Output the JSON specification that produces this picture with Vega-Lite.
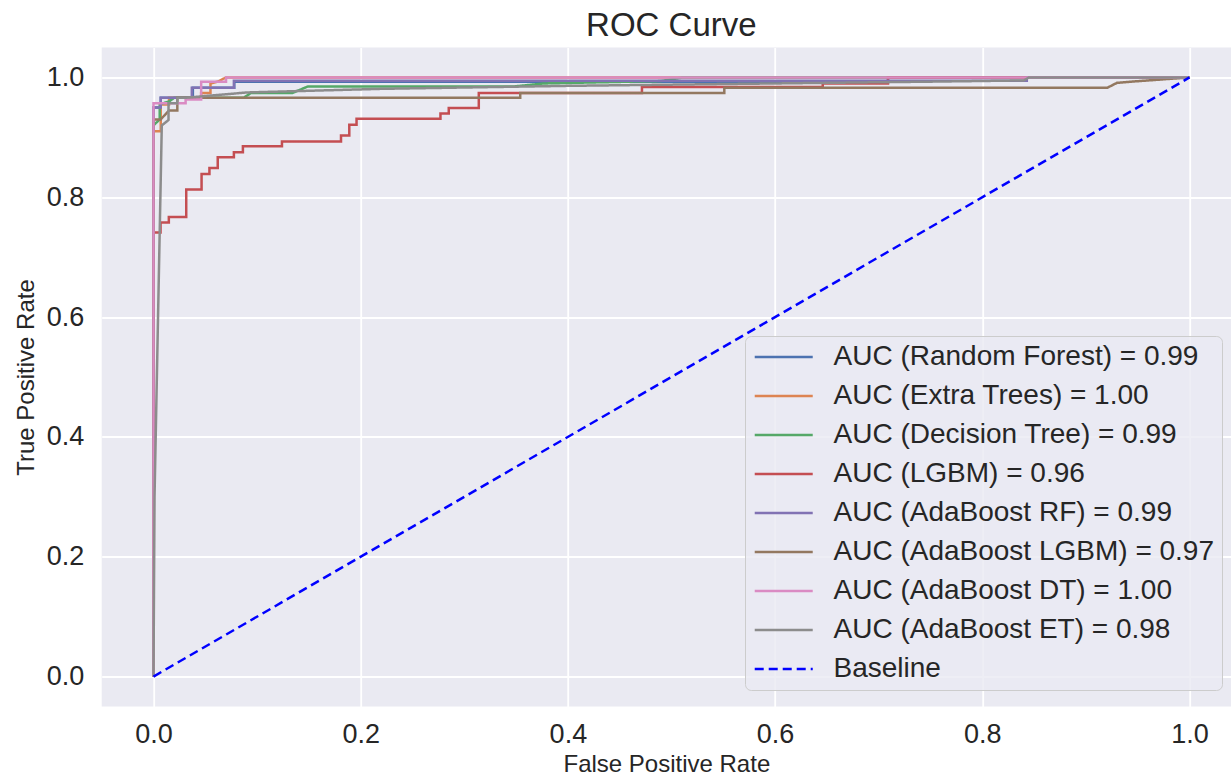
{
  "$schema": "https://vega.github.io/schema/vega-lite/v6.json",
  "width": 1129.3,
  "height": 659,
  "autosize": "none",
  "padding": {"left": 101.7, "top": 47.5, "right": 0, "bottom": 70.5},
  "background": "white",
  "title": {"text": "ROC Curve", "fontSize": 33, "font": "Liberation Sans", "fontWeight": "normal", "color": "#262626", "anchor": "middle", "dx": 5, "offset": 5},
  "config": {
    "view": {"fill": "#EAEAF2", "stroke": null},
    "axis": {"domain": false, "ticks": false, "grid": true, "gridColor": "#ffffff", "gridWidth": 1.8, "labelFont": "Liberation Sans", "labelFontSize": 27, "labelColor": "#262626", "titleFont": "Liberation Sans", "titleFontSize": 24, "titleFontWeight": "normal", "titleColor": "#262626"},
    "legend": {"orient": "none", "legendX": 643.3, "legendY": 288.5, "labelFont": "Liberation Sans", "labelFontSize": 28, "labelColor": "#262626", "symbolType": "M-1.88,0H7.79", "symbolSize": 144, "symbolStrokeWidth": 2.5, "labelOffset": 53.5, "padding": 7, "fillColor": "rgba(234,234,242,0.8)", "strokeColor": "#cccccc", "cornerRadius": 6, "labelLimit": 600, "rowPadding": 11}
  },
  "data": {"values": [
    {"model": "AUC (Random Forest) = 0.99", "i": 0, "fpr": 0, "tpr": 0},
    {"model": "AUC (Random Forest) = 0.99", "i": 1, "fpr": 0, "tpr": 0.95},
    {"model": "AUC (Random Forest) = 0.99", "i": 2, "fpr": 0.007, "tpr": 0.95},
    {"model": "AUC (Random Forest) = 0.99", "i": 3, "fpr": 0.007, "tpr": 0.966},
    {"model": "AUC (Random Forest) = 0.99", "i": 4, "fpr": 0.038, "tpr": 0.966},
    {"model": "AUC (Random Forest) = 0.99", "i": 5, "fpr": 0.038, "tpr": 0.983},
    {"model": "AUC (Random Forest) = 0.99", "i": 6, "fpr": 0.078, "tpr": 0.983},
    {"model": "AUC (Random Forest) = 0.99", "i": 7, "fpr": 0.078, "tpr": 0.993},
    {"model": "AUC (Random Forest) = 0.99", "i": 8, "fpr": 0.709, "tpr": 0.993},
    {"model": "AUC (Random Forest) = 0.99", "i": 9, "fpr": 0.709, "tpr": 1},
    {"model": "AUC (Random Forest) = 0.99", "i": 10, "fpr": 1, "tpr": 1},

    {"model": "AUC (Extra Trees) = 1.00", "i": 0, "fpr": 0, "tpr": 0},
    {"model": "AUC (Extra Trees) = 1.00", "i": 1, "fpr": 0, "tpr": 0.91},
    {"model": "AUC (Extra Trees) = 1.00", "i": 2, "fpr": 0.007, "tpr": 0.91},
    {"model": "AUC (Extra Trees) = 1.00", "i": 3, "fpr": 0.007, "tpr": 0.955},
    {"model": "AUC (Extra Trees) = 1.00", "i": 4, "fpr": 0.015, "tpr": 0.955},
    {"model": "AUC (Extra Trees) = 1.00", "i": 5, "fpr": 0.015, "tpr": 0.966},
    {"model": "AUC (Extra Trees) = 1.00", "i": 6, "fpr": 0.046, "tpr": 0.966},
    {"model": "AUC (Extra Trees) = 1.00", "i": 7, "fpr": 0.046, "tpr": 0.974},
    {"model": "AUC (Extra Trees) = 1.00", "i": 8, "fpr": 0.055, "tpr": 0.974},
    {"model": "AUC (Extra Trees) = 1.00", "i": 9, "fpr": 0.055, "tpr": 0.99},
    {"model": "AUC (Extra Trees) = 1.00", "i": 10, "fpr": 0.062, "tpr": 0.993},
    {"model": "AUC (Extra Trees) = 1.00", "i": 11, "fpr": 0.07, "tpr": 1},
    {"model": "AUC (Extra Trees) = 1.00", "i": 12, "fpr": 1, "tpr": 1},

    {"model": "AUC (Decision Tree) = 0.99", "i": 0, "fpr": 0, "tpr": 0},
    {"model": "AUC (Decision Tree) = 0.99", "i": 1, "fpr": 0, "tpr": 0.92},
    {"model": "AUC (Decision Tree) = 0.99", "i": 2, "fpr": 0.006, "tpr": 0.93},
    {"model": "AUC (Decision Tree) = 0.99", "i": 3, "fpr": 0.006, "tpr": 0.955},
    {"model": "AUC (Decision Tree) = 0.99", "i": 4, "fpr": 0.015, "tpr": 0.96},
    {"model": "AUC (Decision Tree) = 0.99", "i": 5, "fpr": 0.02, "tpr": 0.966},
    {"model": "AUC (Decision Tree) = 0.99", "i": 6, "fpr": 0.087, "tpr": 0.966},
    {"model": "AUC (Decision Tree) = 0.99", "i": 7, "fpr": 0.094, "tpr": 0.974},
    {"model": "AUC (Decision Tree) = 0.99", "i": 8, "fpr": 0.134, "tpr": 0.974},
    {"model": "AUC (Decision Tree) = 0.99", "i": 9, "fpr": 0.149, "tpr": 0.985},
    {"model": "AUC (Decision Tree) = 0.99", "i": 10, "fpr": 0.348, "tpr": 0.985},
    {"model": "AUC (Decision Tree) = 0.99", "i": 11, "fpr": 0.377, "tpr": 0.99},
    {"model": "AUC (Decision Tree) = 0.99", "i": 12, "fpr": 0.49, "tpr": 0.994},
    {"model": "AUC (Decision Tree) = 0.99", "i": 13, "fpr": 0.511, "tpr": 1},
    {"model": "AUC (Decision Tree) = 0.99", "i": 14, "fpr": 1, "tpr": 1},

    {"model": "AUC (LGBM) = 0.96", "i": 0, "fpr": 0, "tpr": 0},
    {"model": "AUC (LGBM) = 0.96", "i": 1, "fpr": 0, "tpr": 0.741},
    {"model": "AUC (LGBM) = 0.96", "i": 2, "fpr": 0.0068, "tpr": 0.741},
    {"model": "AUC (LGBM) = 0.96", "i": 3, "fpr": 0.0068, "tpr": 0.758},
    {"model": "AUC (LGBM) = 0.96", "i": 4, "fpr": 0.0148, "tpr": 0.758},
    {"model": "AUC (LGBM) = 0.96", "i": 5, "fpr": 0.0148, "tpr": 0.767},
    {"model": "AUC (LGBM) = 0.96", "i": 6, "fpr": 0.0316, "tpr": 0.767},
    {"model": "AUC (LGBM) = 0.96", "i": 7, "fpr": 0.0316, "tpr": 0.813},
    {"model": "AUC (LGBM) = 0.96", "i": 8, "fpr": 0.0464, "tpr": 0.813},
    {"model": "AUC (LGBM) = 0.96", "i": 9, "fpr": 0.0464, "tpr": 0.839},
    {"model": "AUC (LGBM) = 0.96", "i": 10, "fpr": 0.054, "tpr": 0.839},
    {"model": "AUC (LGBM) = 0.96", "i": 11, "fpr": 0.054, "tpr": 0.849},
    {"model": "AUC (LGBM) = 0.96", "i": 12, "fpr": 0.062, "tpr": 0.849},
    {"model": "AUC (LGBM) = 0.96", "i": 13, "fpr": 0.062, "tpr": 0.867},
    {"model": "AUC (LGBM) = 0.96", "i": 14, "fpr": 0.0776, "tpr": 0.867},
    {"model": "AUC (LGBM) = 0.96", "i": 15, "fpr": 0.0776, "tpr": 0.875},
    {"model": "AUC (LGBM) = 0.96", "i": 16, "fpr": 0.0863, "tpr": 0.875},
    {"model": "AUC (LGBM) = 0.96", "i": 17, "fpr": 0.0863, "tpr": 0.885},
    {"model": "AUC (LGBM) = 0.96", "i": 18, "fpr": 0.124, "tpr": 0.885},
    {"model": "AUC (LGBM) = 0.96", "i": 19, "fpr": 0.124, "tpr": 0.893},
    {"model": "AUC (LGBM) = 0.96", "i": 20, "fpr": 0.181, "tpr": 0.893},
    {"model": "AUC (LGBM) = 0.96", "i": 21, "fpr": 0.181, "tpr": 0.903},
    {"model": "AUC (LGBM) = 0.96", "i": 22, "fpr": 0.189, "tpr": 0.903},
    {"model": "AUC (LGBM) = 0.96", "i": 23, "fpr": 0.189, "tpr": 0.921},
    {"model": "AUC (LGBM) = 0.96", "i": 24, "fpr": 0.196, "tpr": 0.921},
    {"model": "AUC (LGBM) = 0.96", "i": 25, "fpr": 0.196, "tpr": 0.931},
    {"model": "AUC (LGBM) = 0.96", "i": 26, "fpr": 0.277, "tpr": 0.931},
    {"model": "AUC (LGBM) = 0.96", "i": 27, "fpr": 0.277, "tpr": 0.94},
    {"model": "AUC (LGBM) = 0.96", "i": 28, "fpr": 0.285, "tpr": 0.94},
    {"model": "AUC (LGBM) = 0.96", "i": 29, "fpr": 0.285, "tpr": 0.949},
    {"model": "AUC (LGBM) = 0.96", "i": 30, "fpr": 0.314, "tpr": 0.949},
    {"model": "AUC (LGBM) = 0.96", "i": 31, "fpr": 0.314, "tpr": 0.974},
    {"model": "AUC (LGBM) = 0.96", "i": 32, "fpr": 0.4715, "tpr": 0.974},
    {"model": "AUC (LGBM) = 0.96", "i": 33, "fpr": 0.4715, "tpr": 0.984},
    {"model": "AUC (LGBM) = 0.96", "i": 34, "fpr": 0.646, "tpr": 0.984},
    {"model": "AUC (LGBM) = 0.96", "i": 35, "fpr": 0.646, "tpr": 0.99},
    {"model": "AUC (LGBM) = 0.96", "i": 36, "fpr": 0.709, "tpr": 0.99},
    {"model": "AUC (LGBM) = 0.96", "i": 37, "fpr": 0.709, "tpr": 1},
    {"model": "AUC (LGBM) = 0.96", "i": 38, "fpr": 1, "tpr": 1},

    {"model": "AUC (AdaBoost RF) = 0.99", "i": 0, "fpr": 0, "tpr": 0},
    {"model": "AUC (AdaBoost RF) = 0.99", "i": 1, "fpr": 0, "tpr": 0.95},
    {"model": "AUC (AdaBoost RF) = 0.99", "i": 2, "fpr": 0.007, "tpr": 0.95},
    {"model": "AUC (AdaBoost RF) = 0.99", "i": 3, "fpr": 0.007, "tpr": 0.966},
    {"model": "AUC (AdaBoost RF) = 0.99", "i": 4, "fpr": 0.037, "tpr": 0.966},
    {"model": "AUC (AdaBoost RF) = 0.99", "i": 5, "fpr": 0.037, "tpr": 0.983},
    {"model": "AUC (AdaBoost RF) = 0.99", "i": 6, "fpr": 0.0776, "tpr": 0.983},
    {"model": "AUC (AdaBoost RF) = 0.99", "i": 7, "fpr": 0.0776, "tpr": 0.9945},
    {"model": "AUC (AdaBoost RF) = 0.99", "i": 8, "fpr": 0.843, "tpr": 0.9945},
    {"model": "AUC (AdaBoost RF) = 0.99", "i": 9, "fpr": 0.843, "tpr": 1},
    {"model": "AUC (AdaBoost RF) = 0.99", "i": 10, "fpr": 1, "tpr": 1},

    {"model": "AUC (AdaBoost LGBM) = 0.97", "i": 0, "fpr": 0, "tpr": 0},
    {"model": "AUC (AdaBoost LGBM) = 0.97", "i": 1, "fpr": 0, "tpr": 0.93},
    {"model": "AUC (AdaBoost LGBM) = 0.97", "i": 2, "fpr": 0.007, "tpr": 0.93},
    {"model": "AUC (AdaBoost LGBM) = 0.97", "i": 3, "fpr": 0.015, "tpr": 0.945},
    {"model": "AUC (AdaBoost LGBM) = 0.97", "i": 4, "fpr": 0.023, "tpr": 0.945},
    {"model": "AUC (AdaBoost LGBM) = 0.97", "i": 5, "fpr": 0.023, "tpr": 0.966},
    {"model": "AUC (AdaBoost LGBM) = 0.97", "i": 6, "fpr": 0.354, "tpr": 0.966},
    {"model": "AUC (AdaBoost LGBM) = 0.97", "i": 7, "fpr": 0.354, "tpr": 0.974},
    {"model": "AUC (AdaBoost LGBM) = 0.97", "i": 8, "fpr": 0.551, "tpr": 0.974},
    {"model": "AUC (AdaBoost LGBM) = 0.97", "i": 9, "fpr": 0.551, "tpr": 0.983},
    {"model": "AUC (AdaBoost LGBM) = 0.97", "i": 10, "fpr": 0.921, "tpr": 0.983},
    {"model": "AUC (AdaBoost LGBM) = 0.97", "i": 11, "fpr": 0.93, "tpr": 0.991},
    {"model": "AUC (AdaBoost LGBM) = 0.97", "i": 12, "fpr": 0.944, "tpr": 0.993},
    {"model": "AUC (AdaBoost LGBM) = 0.97", "i": 13, "fpr": 1, "tpr": 1},

    {"model": "AUC (AdaBoost DT) = 1.00", "i": 0, "fpr": 0, "tpr": 0},
    {"model": "AUC (AdaBoost DT) = 1.00", "i": 1, "fpr": 0, "tpr": 0.957},
    {"model": "AUC (AdaBoost DT) = 1.00", "i": 2, "fpr": 0.031, "tpr": 0.957},
    {"model": "AUC (AdaBoost DT) = 1.00", "i": 3, "fpr": 0.031, "tpr": 0.963},
    {"model": "AUC (AdaBoost DT) = 1.00", "i": 4, "fpr": 0.046, "tpr": 0.963},
    {"model": "AUC (AdaBoost DT) = 1.00", "i": 5, "fpr": 0.046, "tpr": 0.993},
    {"model": "AUC (AdaBoost DT) = 1.00", "i": 6, "fpr": 0.07, "tpr": 0.993},
    {"model": "AUC (AdaBoost DT) = 1.00", "i": 7, "fpr": 0.07, "tpr": 1},
    {"model": "AUC (AdaBoost DT) = 1.00", "i": 8, "fpr": 1, "tpr": 1},

    {"model": "AUC (AdaBoost ET) = 0.98", "i": 0, "fpr": 0, "tpr": 0},
    {"model": "AUC (AdaBoost ET) = 0.98", "i": 1, "fpr": 0.001, "tpr": 0.3},
    {"model": "AUC (AdaBoost ET) = 0.98", "i": 2, "fpr": 0.008, "tpr": 0.92},
    {"model": "AUC (AdaBoost ET) = 0.98", "i": 3, "fpr": 0.0145, "tpr": 0.929},
    {"model": "AUC (AdaBoost ET) = 0.98", "i": 4, "fpr": 0.0145, "tpr": 0.957},
    {"model": "AUC (AdaBoost ET) = 0.98", "i": 5, "fpr": 0.023, "tpr": 0.957},
    {"model": "AUC (AdaBoost ET) = 0.98", "i": 6, "fpr": 0.023, "tpr": 0.966},
    {"model": "AUC (AdaBoost ET) = 0.98", "i": 7, "fpr": 0.03, "tpr": 0.966},
    {"model": "AUC (AdaBoost ET) = 0.98", "i": 8, "fpr": 0.0905, "tpr": 0.975},
    {"model": "AUC (AdaBoost ET) = 0.98", "i": 9, "fpr": 0.22, "tpr": 0.981},
    {"model": "AUC (AdaBoost ET) = 0.98", "i": 10, "fpr": 0.4, "tpr": 0.986},
    {"model": "AUC (AdaBoost ET) = 0.98", "i": 11, "fpr": 0.55, "tpr": 0.989},
    {"model": "AUC (AdaBoost ET) = 0.98", "i": 12, "fpr": 0.75, "tpr": 0.993},
    {"model": "AUC (AdaBoost ET) = 0.98", "i": 13, "fpr": 0.84, "tpr": 0.995},
    {"model": "AUC (AdaBoost ET) = 0.98", "i": 14, "fpr": 0.845, "tpr": 1},
    {"model": "AUC (AdaBoost ET) = 0.98", "i": 15, "fpr": 1, "tpr": 1},

    {"model": "Baseline", "i": 0, "fpr": 0, "tpr": 0},
    {"model": "Baseline", "i": 1, "fpr": 1, "tpr": 1}
  ]},
  "mark": {"type": "line", "strokeWidth": 2.5},
  "encoding": {
    "x": {"field": "fpr", "type": "quantitative", "title": "False Positive Rate",
      "scale": {"domain": [-0.05, 1.0401], "nice": false, "zero": false},
      "axis": {"values": [0, 0.2, 0.4, 0.6, 0.8, 1.0], "format": ".1f", "labelPadding": 15, "titlePadding": 5}},
    "y": {"field": "tpr", "type": "quantitative", "title": "True Positive Rate",
      "scale": {"domain": [-0.05, 1.05], "nice": false, "zero": false},
      "axis": {"values": [0, 0.2, 0.4, 0.6, 0.8, 1.0], "format": ".1f", "labelPadding": 18, "titlePadding": 8}},
    "order": {"field": "i", "type": "quantitative"},
    "color": {"field": "model", "type": "nominal", "legend": {"title": null},
      "scale": {
        "domain": ["AUC (Random Forest) = 0.99", "AUC (Extra Trees) = 1.00", "AUC (Decision Tree) = 0.99", "AUC (LGBM) = 0.96", "AUC (AdaBoost RF) = 0.99", "AUC (AdaBoost LGBM) = 0.97", "AUC (AdaBoost DT) = 1.00", "AUC (AdaBoost ET) = 0.98", "Baseline"],
        "range": ["#4C72B0", "#DD8452", "#55A868", "#C44E52", "#8172B3", "#937860", "#DA8BC3", "#8C8C8C", "#0000FF"]}},
    "strokeDash": {"field": "model", "type": "nominal", "legend": {"title": null},
      "scale": {
        "domain": ["AUC (Random Forest) = 0.99", "AUC (Extra Trees) = 1.00", "AUC (Decision Tree) = 0.99", "AUC (LGBM) = 0.96", "AUC (AdaBoost RF) = 0.99", "AUC (AdaBoost LGBM) = 0.97", "AUC (AdaBoost DT) = 1.00", "AUC (AdaBoost ET) = 0.98", "Baseline"],
        "range": [[1, 0], [1, 0], [1, 0], [1, 0], [1, 0], [1, 0], [1, 0], [1, 0], [9, 5]]}}
  }
}
